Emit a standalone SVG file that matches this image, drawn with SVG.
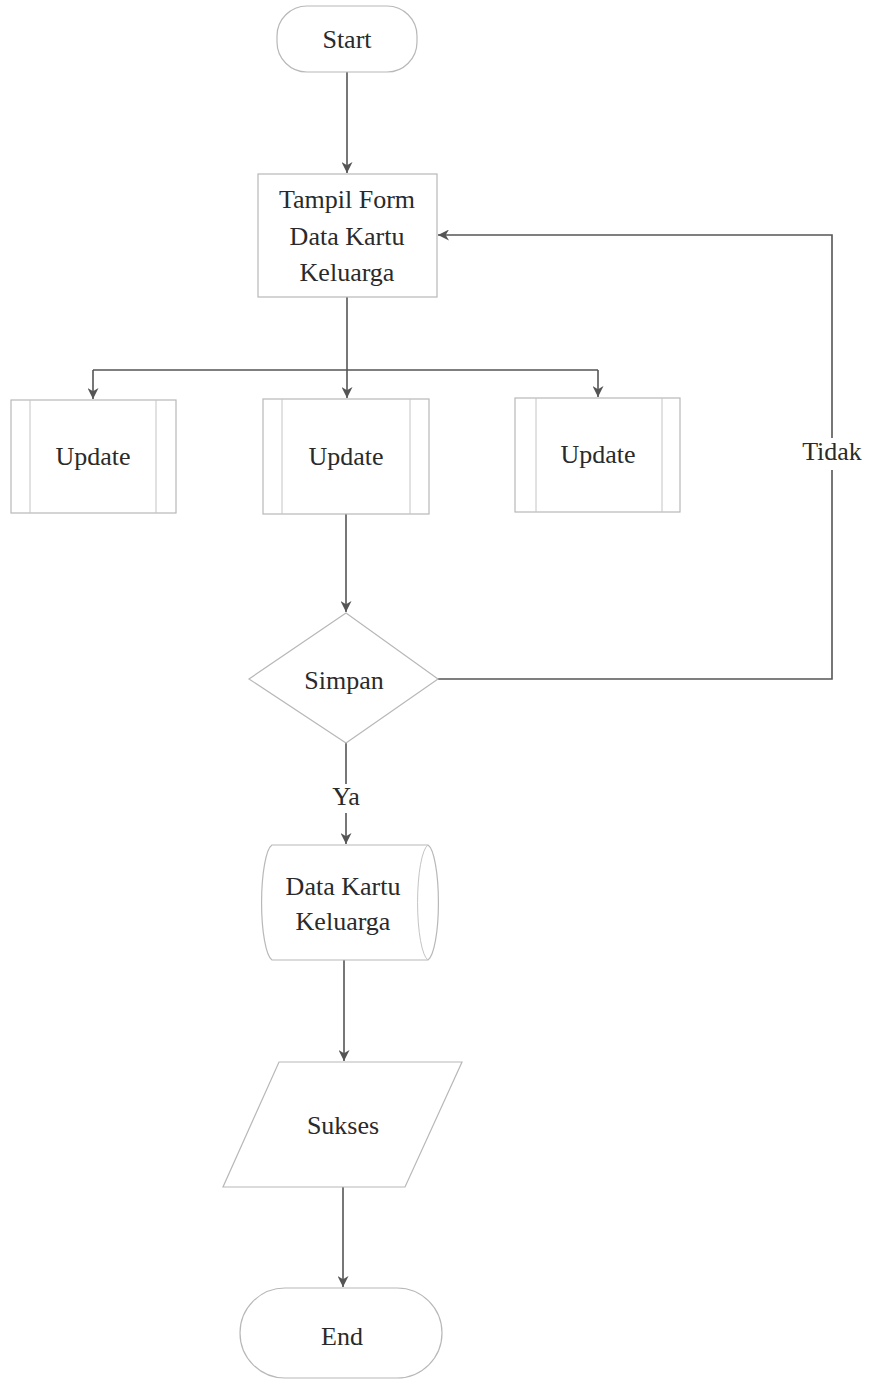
<svg xmlns="http://www.w3.org/2000/svg" width="870" height="1382" viewBox="0 0 870 1382">
<style>
.shape{fill:#fff;stroke:#b8b8b8;stroke-width:1.2}
.inner{fill:none;stroke:#c4c4c4;stroke-width:1}
.conn{fill:none;stroke:#555;stroke-width:1.6}
text{font-family:"Liberation Serif","Times New Roman",serif;font-size:26px;fill:#2a2a2a;text-anchor:middle}
</style>
<defs>
<marker id="arr" viewBox="0 0 10 10" refX="10" refY="5" markerWidth="11" markerHeight="11" markerUnits="userSpaceOnUse" orient="auto">
<path d="M0,0 L10,5 L0,10 L3,5 Z" fill="#555"/>
</marker>
</defs>
<rect width="870" height="1382" fill="#fff"/>
<g id="connectors">
<path class="conn" d="M347,72 V173" marker-end="url(#arr)"/>
<path class="conn" d="M347,297 V370"/>
<path class="conn" d="M93,370 H598"/>
<path class="conn" d="M93,370 V399" marker-end="url(#arr)"/>
<path class="conn" d="M347,370 V398" marker-end="url(#arr)"/>
<path class="conn" d="M598,370 V397" marker-end="url(#arr)"/>
<path class="conn" d="M346,514 V612" marker-end="url(#arr)"/>
<path class="conn" d="M438,679 H832 V470"/>
<path class="conn" d="M832,438 V235 H438" marker-end="url(#arr)"/>
<path class="conn" d="M346,743 V784"/>
<path class="conn" d="M346,813 V844" marker-end="url(#arr)"/>
<path class="conn" d="M344,960 V1061" marker-end="url(#arr)"/>
<path class="conn" d="M343,1187 V1287" marker-end="url(#arr)"/>
<text x="832" y="460">Tidak</text>
<text x="346" y="805">Ya</text>
</g>
<g id="start">
<rect class="shape" x="277" y="6" width="140" height="66" rx="30"/>
<text x="347" y="48">Start</text>
</g>
<g id="tampil-form">
<rect class="shape" x="258" y="174" width="179" height="123"/>
<text x="347" y="208">Tampil Form</text>
<text x="347" y="245">Data Kartu</text>
<text x="347" y="281">Keluarga</text>
</g>
<g id="update-1">
<rect class="shape" x="11" y="400" width="165" height="113"/>
<line class="inner" x1="30" y1="400" x2="30" y2="513"/>
<line class="inner" x1="156" y1="400" x2="156" y2="513"/>
<text x="93" y="465">Update</text>
</g>
<g id="update-2">
<rect class="shape" x="263" y="399" width="166" height="115"/>
<line class="inner" x1="282" y1="399" x2="282" y2="514"/>
<line class="inner" x1="410" y1="399" x2="410" y2="514"/>
<text x="346" y="465">Update</text>
</g>
<g id="update-3">
<rect class="shape" x="515" y="398" width="165" height="114"/>
<line class="inner" x1="536" y1="398" x2="536" y2="512"/>
<line class="inner" x1="662" y1="398" x2="662" y2="512"/>
<text x="598" y="463">Update</text>
</g>
<g id="simpan">
<polygon class="shape" points="346,613 438,679 346,743 249,679"/>
<text x="344" y="689">Simpan</text>
</g>
<g id="data-kartu-keluarga">
<path class="shape" d="M272,845 H428 A12,58 0 0 1 428,960 H272 A12,58 0 0 1 272,845 Z"/>
<path class="inner" d="M428,845 A12,58 0 0 0 428,960"/>
<text x="343" y="895">Data Kartu</text>
<text x="343" y="930">Keluarga</text>
</g>
<g id="sukses">
<polygon class="shape" points="279,1062 462,1062 405,1187 223,1187"/>
<text x="343" y="1134">Sukses</text>
</g>
<g id="end">
<rect class="shape" x="240" y="1288" width="202" height="90" rx="45"/>
<text x="342" y="1345">End</text>
</g>
</svg>
